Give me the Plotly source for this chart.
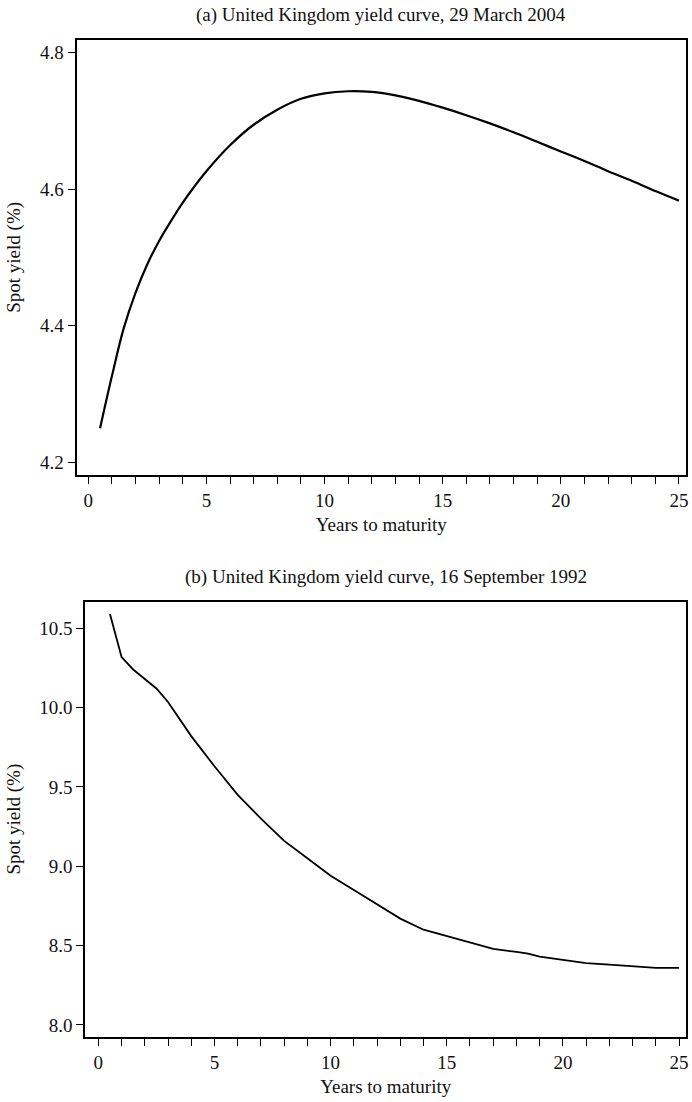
import plotly.graph_objects as go

# ---- data ----
years_a = [0.5, 1.0, 1.5, 2.0, 2.5, 3.0, 3.5, 4.0, 4.5, 5.0, 6.0, 7.0, 8.0, 9.0,
           10.0, 11.0, 12.0, 13.0, 14.0, 15.0, 16.0, 17.0, 18.0, 19.0, 20.0,
           21.0, 22.0, 23.0, 24.0, 25.0]
yield_a = [4.250, 4.326, 4.396, 4.448, 4.490, 4.524, 4.553, 4.580, 4.604, 4.626,
           4.664, 4.694, 4.716, 4.732, 4.740, 4.743, 4.742, 4.737, 4.729, 4.719,
           4.708, 4.696, 4.683, 4.669, 4.655, 4.641, 4.626, 4.612, 4.597, 4.583]

years_b = [0.5, 1.0, 1.5, 2.0, 2.5, 3.0, 3.5, 4.0, 5.0, 6.0, 7.0, 8.0, 9.0, 10.0,
           11.0, 12.0, 12.5, 13.0, 14.0, 15.0, 16.0, 17.0, 18.0, 18.5, 19.0, 20.0,
           21.0, 22.0, 22.5, 23.0, 24.0, 25.0]
yield_b = [10.59, 10.318, 10.24, 10.18, 10.12, 10.035, 9.93, 9.82, 9.63, 9.45,
           9.30, 9.16, 9.05, 8.94, 8.85, 8.76, 8.72, 8.67, 8.60, 8.56, 8.52, 8.48,
           8.46, 8.45, 8.43, 8.41, 8.39, 8.38, 8.375, 8.37, 8.36, 8.36]

x_ticks = [0, 5, 10, 15, 20, 25]
y_ticks_a = [4.2, 4.4, 4.6, 4.8]
y_ticks_b = [8.0, 8.5, 9.0, 9.5, 10.0, 10.5]

title_a = "(a) United Kingdom yield curve, 29 March 2004"
title_b = "(b) United Kingdom yield curve, 16 September 1992"
x_title = "Years to maturity"
y_title = "Spot yield (%)"

# ---- figure ----
W, H = 692, 1102
FONT = "Liberation Serif, Times New Roman, serif"

fig = go.Figure()
fig.add_trace(go.Scatter(x=years_a, y=yield_a, mode="lines",
                         line=dict(color="black", width=2.2, shape="spline", smoothing=1.0),
                         xaxis="x", yaxis="y", showlegend=False))
fig.add_trace(go.Scatter(x=years_b, y=yield_b, mode="lines",
                         line=dict(color="black", width=1.8),
                         xaxis="x2", yaxis="y2", showlegend=False))


def py(px):
    return 1 - px / H


def pxx(px):
    return px / W


axis_common = dict(showline=True, linecolor="black", linewidth=2, mirror=True,
                   showgrid=False, zeroline=False, ticks="outside", ticklen=7,
                   tickwidth=1.3, tickcolor="black", ticklabeloverflow="allow",
                   tickfont=dict(family=FONT, size=19, color="#111"))

fig.update_layout(
    width=W, height=H,
    margin=dict(l=0, r=0, t=0, b=0),
    paper_bgcolor="white", plot_bgcolor="white",
    font=dict(family=FONT, color="#111"),
    xaxis=dict(domain=[pxx(77), pxx(689)], range=[-0.49, 25.30], anchor="y",
               tickvals=x_ticks,
               minor=dict(dtick=1, ticks="outside", ticklen=7, tickwidth=1.3, tickcolor="black"),
               title=dict(text=x_title, font=dict(family=FONT, size=19), standoff=8),
               **axis_common),
    yaxis=dict(domain=[py(474.7), py(40)], range=[4.182, 4.818], anchor="x",
               tickvals=y_ticks_a, tickformat=".1f",
               title=dict(text=y_title, font=dict(family=FONT, size=19), standoff=14),
               **axis_common),
    xaxis2=dict(domain=[pxx(85.7), pxx(689)], range=[-0.56, 25.30], anchor="y2",
                tickvals=x_ticks,
                minor=dict(dtick=1, ticks="outside", ticklen=7, tickwidth=1.3, tickcolor="black"),
                title=dict(text=x_title, font=dict(family=FONT, size=19), standoff=8),
                **axis_common),
    yaxis2=dict(domain=[py(1036.7), py(601.7)], range=[7.926, 10.667], anchor="x2",
                tickvals=y_ticks_b, tickformat=".1f",
                title=dict(text=y_title, font=dict(family=FONT, size=19), standoff=14),
                **axis_common),
    annotations=[
        dict(text=title_a, x=pxx((77 + 689) / 2), y=py(15), xref="paper", yref="paper",
             showarrow=False, font=dict(family=FONT, size=19), xanchor="center", yanchor="middle"),
        dict(text=title_b, x=pxx((85.7 + 689) / 2), y=py(577), xref="paper", yref="paper",
             showarrow=False, font=dict(family=FONT, size=19), xanchor="center", yanchor="middle"),
    ],
)

fig.write_html("out.html")
